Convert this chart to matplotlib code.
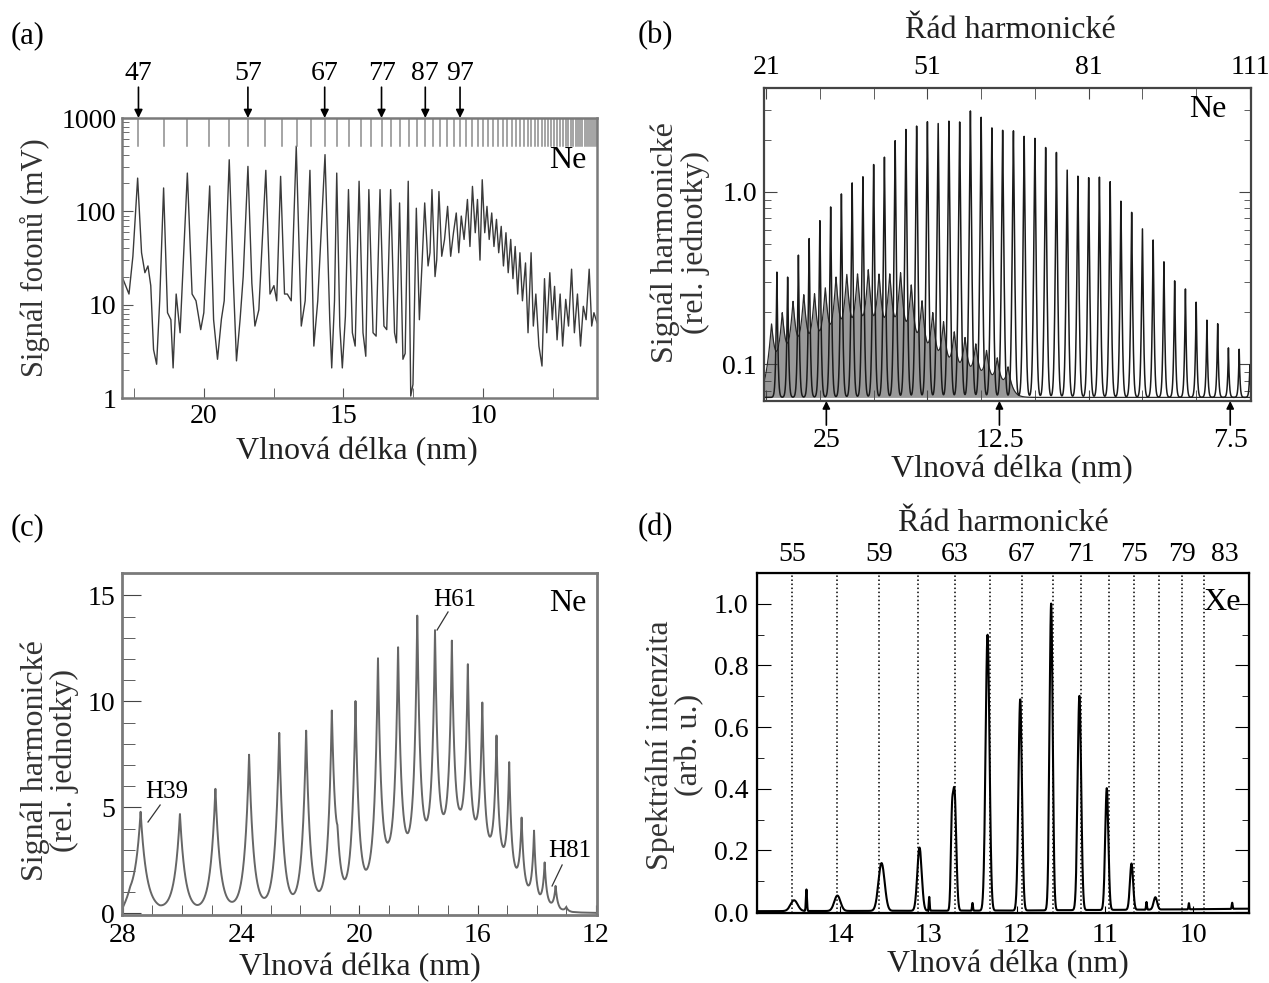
import numpy as np
import matplotlib
matplotlib.use('Agg')
import matplotlib.pyplot as plt
from matplotlib.ticker import FixedLocator, FixedFormatter, NullFormatter

plt.rcParams['font.family'] = ['Liberation Serif', 'DejaVu Serif']

# ---------------- data ----------------
# (a) Ne, signal vs wavelength (trace vertices)
a_wl = [22.93, 22.68, 22.54, 22.37, 22.23, 22.11, 22.00, 21.90, 21.80, 21.69, 21.58, 21.44,
        21.30, 21.18, 21.10, 20.99, 20.85, 20.59, 20.42, 20.28, 20.11, 20.00, 19.79, 19.65,
        19.51, 19.37, 19.27, 19.09, 18.94, 18.83, 18.70, 18.59, 18.42, 18.28, 18.17, 18.03,
        17.78, 17.63, 17.49, 17.39, 17.25, 17.11, 17.01, 16.87, 16.69, 16.51, 16.37, 16.20,
        16.06, 15.92, 15.66, 15.49, 15.42, 15.32, 15.24, 15.13, 15.04, 14.93, 14.82, 14.68,
        14.58, 14.44, 14.30, 14.20, 14.09, 13.94, 13.83, 13.69, 13.55, 13.45, 13.31, 13.17,
        13.10, 12.99, 12.87, 12.79, 12.68, 12.59, 12.51, 12.39, 12.28, 12.18, 12.09, 11.97,
        11.90, 11.83, 11.72, 11.66, 11.58, 11.48, 11.38, 11.27, 11.16, 11.06, 10.96, 10.87,
        10.78, 10.68, 10.56, 10.47, 10.38, 10.28, 10.20, 10.11, 10.03, 9.94, 9.86, 9.78,
        9.69, 9.61, 9.52, 9.44, 9.35, 9.27, 9.18, 9.10, 9.01, 8.93, 8.85, 8.76, 8.68, 8.59,
        8.48, 8.39, 8.28, 8.20, 8.11, 8.00, 7.89, 7.80, 7.72, 7.61, 7.52, 7.44, 7.35, 7.24,
        7.15, 7.04, 6.94, 6.83, 6.73, 6.62, 6.51, 6.41, 6.31, 6.20, 6.11, 6.03, 5.92]
a_sig = [20, 13, 33, 227, 36, 22, 26, 16, 3.3, 2.3, 11, 178,
         8.2, 6.9, 2.1, 13, 5, 257, 13, 11, 5.4, 8.2, 187, 6.9,
         2.6, 7, 11, 357, 17, 2.5, 7, 20, 303, 17, 5.9, 8.8,
         275, 13, 16, 11, 237, 13, 13, 11, 500, 5.9, 11, 275,
         3.6, 11, 405, 6.9, 2.1, 11, 257, 5.9, 2.1, 7.5, 171, 5,
         3.6, 210, 5, 2.8, 171, 5, 4.6, 171, 5.9, 5.4, 171, 5,
         3.9, 123, 2.6, 3.0, 210, 1.05, 1.4, 108, 6.9, 30, 123, 26,
         36, 171, 20, 30, 163, 33, 50, 113, 33, 59, 96, 36,
         89, 50, 134, 42, 185, 59, 134, 30, 218, 59, 113, 50,
         96, 42, 82, 36, 69, 26, 59, 22, 50, 19, 42, 13, 36, 11,
         28, 5, 36, 5.9, 13, 3.6, 2.2, 19, 5, 22, 6.9, 15.7, 4.2, 13,
         3.6, 11.4, 5.9, 24, 5, 13, 3.6, 9.6, 6.9, 24, 5.9, 8.2, 6.4]
a_laser = 1050.0  # nm, wavelength of the driving laser
a_marked = [47, 57, 67, 77, 87, 97]
a_comb = list(range(45, 181, 2))

# (b) Ne, harmonic signal vs harmonic order
b_orders = list(range(23, 112, 2))
b_height = [0.344, 0.33, 0.43, 0.55, 0.69, 0.83, 1.0, 1.13, 1.27, 1.45, 1.63, 2.02,
            2.33, 2.49, 2.55, 2.58, 2.6, 2.6, 3.02, 2.73, 2.44, 2.28, 2.33, 2.13,
            2.08, 1.86, 1.70, 1.39, 1.24, 1.24, 1.24, 1.16, 0.91, 0.76, 0.63, 0.53,
            0.40, 0.31, 0.275, 0.235, 0.18, 0.175, 0.125, 0.123, 0.10]
# weaker second trace (dark band low on the left)
b_low_orders = list(range(22, 68, 2))
b_low_height = [0.1, 0.12, 0.15, 0.17, 0.17, 0.19, 0.23, 0.24, 0.24, 0.26, 0.24, 0.24,
                0.25, 0.2, 0.15, 0.12, 0.1, 0.08, 0.07, 0.06, 0.05, 0.04, 0.03]
b_floor = 0.064
b_laser = 805.0
b_marked_wl = [25, 12.5, 7.5]

# (c) Ne, linear signal vs wavelength
c_peak_wl = [27.40, 26.07, 24.87, 23.73, 22.71, 21.80, 20.93, 20.74, 20.13, 19.37, 18.69,
             18.04, 17.44, 16.87, 16.33, 15.84, 15.36, 14.93, 14.51, 14.09, 13.73, 13.36, 13.00]
c_peak_h = [4.8, 4.7, 5.9, 7.5, 8.5, 8.65, 9.3, 2.2, 10.0, 12.05, 12.6,
            14.1, 13.4, 12.85, 11.8, 10.0, 8.4, 7.15, 4.5, 3.9, 2.4, 1.3, 0.3]
c_base_wl = [28.03, 27.75, 26.75, 25.5, 24.3, 23.2, 22.25, 21.35, 20.5, 19.8, 19.0, 18.35,
             17.75, 17.15, 16.6, 16.05, 15.6, 15.15, 14.7, 14.3, 13.9, 13.55, 13.2, 12.8,
             12.4, 11.96]
c_base_val = [0.05, 0.6, 0.15, 0.1, 0.2, 0.25, 0.3, 0.45, 0.7, 1.3, 2.5, 2.9,
              3.4, 3.8, 4.1, 3.6, 3.0, 2.5, 1.7, 1.0, 0.55, 0.35, 0.15, 0.06,
              0.03, 0.02]
c_labels = ['H39', 'H61', 'H81']

# (d) Xe, spectral intensity vs wavelength
d_peak_wl = [14.52, 14.38, 14.03, 13.53, 13.10, 12.99, 12.735, 12.705, 12.50, 12.33, 11.96,
             11.61, 11.29, 10.98, 10.70, 10.53, 10.43, 10.05, 9.56]
d_peak_h = [0.035, 0.07, 0.05, 0.155, 0.205, 0.045, 0.2, 0.39, 0.025, 0.895, 0.685,
            0.995, 0.695, 0.395, 0.15, 0.025, 0.04, 0.02, 0.02]
d_peak_w = [0.04, 0.006, 0.035, 0.035, 0.025, 0.005, 0.012, 0.02, 0.005, 0.022, 0.02,
            0.018, 0.02, 0.018, 0.018, 0.005, 0.02, 0.005, 0.005]
d_base_wl = [14.94, 12.0, 10.0, 9.37]
d_base_val = [0.003, 0.005, 0.009, 0.011]
d_laser = 800.0
d_lines = list(range(55, 82, 2))
d_top = [55, 59, 63, 67, 71, 75, 79, 83]

W, H = 1269, 983
fig = plt.figure(figsize=(W / 100, H / 100), dpi=100)
fig.patch.set_facecolor('white')


def box(x0, y0, x1, y1):
    return [x0 / W, 1 - y1 / H, (x1 - x0) / W, (y1 - y0) / H]


# ================= (a) =================
ax = fig.add_axes(box(122, 118, 597, 398))
ax.plot(a_wl, a_sig, color='#3a3a3a', lw=1.0)
ax.set_yscale('log')
ax.set_ylim(1, 1000)
ax.set_xlim(22.93, 5.92)
for q in a_comb:
    ax.plot([a_laser / q] * 2, [500, 1000], color='#8c8c8c', lw=1.1)
for q in a_marked:
    x = a_laser / q
    ax.annotate('', xy=(x, 1.0), xycoords=('data', 'axes fraction'),
                xytext=(x, 1.11), textcoords=('data', 'axes fraction'),
                arrowprops=dict(arrowstyle='-|>', color='k', lw=1.2, mutation_scale=12,
                                shrinkA=0, shrinkB=0))
    ax.text(x, 1.16, str(q), transform=ax.get_xaxis_transform(), ha='center', va='center',
            fontsize=20)
ax.yaxis.set_major_locator(FixedLocator([1, 10, 100, 1000]))
ax.yaxis.set_major_formatter(FixedFormatter(['1', '10', '100', '1000']))
ax.yaxis.set_minor_formatter(NullFormatter())
ax.xaxis.set_major_locator(FixedLocator([20, 15, 10]))
ax.xaxis.set_minor_locator(FixedLocator([22.5, 17.5, 12.5, 7.5]))
ax.tick_params(which='both', direction='in', labelsize=20, color='#555', pad=4)
ax.tick_params(axis='y', which='major', length=8)
ax.tick_params(axis='y', which='minor', length=5)
ax.tick_params(axis='x', which='both', length=7)
for s in ax.spines.values():
    s.set_color('#7a7a7a')
    s.set_linewidth(1.8)
ax.text(0.939, 0.85, 'Ne', transform=ax.transAxes, ha='center', va='center', fontsize=23)
ax.set_ylabel('Signál fotonů (mV)', fontsize=22, va='center', color='#333')
ax.yaxis.set_label_coords(-0.183, 0.5)
ax.set_xlabel('Vlnová délka (nm)', fontsize=23, va='center', color='#222')
ax.xaxis.set_label_coords(0.495, -0.193)

# ================= (b) =================
ax = fig.add_axes(box(764, 88, 1251, 401))
qx = np.linspace(20.6, 111.2, 8000)
low = b_floor + sum(h * np.exp(-np.abs(qx - q) / 0.7) for q, h in zip(b_low_orders, b_low_height))
main = b_floor + sum((h - b_floor) * np.exp(-np.abs(qx - q) / 0.13) for q, h in zip(b_orders, b_height))
ax.fill_between(qx, b_floor, low, color='#555', alpha=0.6, lw=0)
ax.plot(qx, low, color='#2a2a2a', lw=0.9)
ax.plot(qx, main, color='#1a1a1a', lw=1.1)
ax.set_yscale('log')
ax.set_xlim(20.6, 111.2)
ax.set_ylim(0.061, 4.0)
ax.yaxis.set_major_locator(FixedLocator([0.1, 1.0]))
ax.yaxis.set_major_formatter(FixedFormatter(['0.1', '1.0']))
ax.yaxis.set_minor_locator(FixedLocator([0.07, 0.08, 0.09, 0.2, 0.3, 0.4, 0.5, 0.6, 0.7,
                                         0.8, 0.9, 2, 3, 4]))
ax.yaxis.set_minor_formatter(NullFormatter())
ax.xaxis.set_major_locator(FixedLocator([21, 51, 81, 111]))
ax.xaxis.set_minor_locator(FixedLocator([31, 41, 61, 71, 91, 101]))
ax.tick_params(which='both', direction='in', labelsize=20, top=True, right=True,
               labeltop=True, labelbottom=False, color='#444')
ax.tick_params(axis='y', which='major', length=9, pad=5)
ax.tick_params(axis='y', which='minor', length=5)
ax.tick_params(axis='x', which='both', length=8, pad=6)
for s in ax.spines.values():
    s.set_color('#444')
    s.set_linewidth(1.6)
for wl in b_marked_wl:
    q = b_laser / wl
    ax.annotate('', xy=(q, 0.0), xycoords=('data', 'axes fraction'),
                xytext=(q, -0.077), textcoords=('data', 'axes fraction'),
                arrowprops=dict(arrowstyle='-|>', color='k', lw=1.2, mutation_scale=11,
                                shrinkA=0, shrinkB=0))
    ax.text(q, -0.125, '%g' % wl, transform=ax.get_xaxis_transform(), ha='center',
            va='center', fontsize=20)
ax.text(0.912, 0.93, 'Ne', transform=ax.transAxes, ha='center', va='center', fontsize=23)
ax.set_ylabel('Signál harmonické\n(rel. jednotky)', fontsize=23, va='center',
              linespacing=1.0, color='#333')
ax.yaxis.set_label_coords(-0.172, 0.505)
ax.set_xlabel('Vlnová délka (nm)', fontsize=23, va='center', color='#222')
ax.xaxis.set_label_coords(0.509, -0.22)
ax.text(0.505, 1.185, 'Řád harmonické', transform=ax.transAxes, ha='center', va='center',
        fontsize=23, color='#222')

# ================= (c) =================
ax = fig.add_axes(box(122, 573, 597, 915))
lx = np.linspace(11.96, 28.03, 6000)
base = np.interp(lx, c_base_wl[::-1], c_base_val[::-1])
c_amp = np.array(c_peak_h) - np.interp(c_peak_wl[::-1], c_base_wl[::-1], c_base_val[::-1])[::-1]
sig = base + sum(a * np.exp(-np.abs(lx - c) / (0.1 * (c / 18.0) ** 1.5))
                 for c, a in zip(c_peak_wl, c_amp))
ax.plot(lx, sig, color='#666', lw=1.4)
ax.set_xlim(28.03, 11.96)
ax.set_ylim(-0.08, 16.06)
ax.xaxis.set_major_locator(FixedLocator([28, 24, 20, 16, 12]))
ax.xaxis.set_minor_locator(FixedLocator(list(range(13, 28))))
ax.yaxis.set_major_locator(FixedLocator([0, 5, 10, 15]))
ax.yaxis.set_minor_locator(FixedLocator([v for v in range(1, 16) if v % 5]))
ax.tick_params(which='both', direction='in', labelsize=20, color='#444')
ax.tick_params(axis='y', which='major', length=14, pad=5)
ax.tick_params(axis='y', which='minor', length=9)
ax.tick_params(axis='x', which='both', length=7, pad=6)
for s in ax.spines.values():
    s.set_color('#7a7a7a')
    s.set_linewidth(2.0)
c_text_pos = [(26.51, 5.72), (16.76, 14.79), (12.87, 2.94)]
c_line = [((26.74, 5.11), (27.15, 4.31)), ((17.0, 14.22), (17.37, 13.37)),
          ((13.14, 2.28), (13.48, 1.29))]
for lab, (tx, ty), (p0, p1) in zip(c_labels, c_text_pos, c_line):
    ax.text(tx, ty, lab, ha='center', va='center', fontsize=18)
    ax.plot([p0[0], p1[0]], [p0[1], p1[1]], color='#333', lw=0.9)
ax.text(0.939, 0.912, 'Ne', transform=ax.transAxes, ha='center', va='center', fontsize=23)
ax.set_ylabel('Signál harmonické\n(rel. jednotky)', fontsize=23, va='center',
              linespacing=1.0, color='#333')
ax.yaxis.set_label_coords(-0.152, 0.453)
ax.set_xlabel('Vlnová délka (nm)', fontsize=23, va='center', color='#222')
ax.xaxis.set_label_coords(0.501, -0.155)

# ================= (d) =================
ax = fig.add_axes(box(757, 573, 1249, 913))
dx = np.linspace(9.37, 14.94, 8000)
spec = np.interp(dx, d_base_wl[::-1], d_base_val[::-1]) + sum(
    h * np.exp(-0.5 * ((dx - c) / w) ** 2) for c, h, w in zip(d_peak_wl, d_peak_h, d_peak_w))
for q in d_lines:
    ax.axvline(d_laser / q, color='k', ls=':', lw=1.1, zorder=1)
ax.plot(dx, spec, color='k', lw=1.5, zorder=2)
ax.set_xlim(14.94, 9.37)
ax.set_ylim(-0.003, 1.1)
ax.yaxis.set_major_locator(FixedLocator([0.0, 0.2, 0.4, 0.6, 0.8, 1.0]))
ax.yaxis.set_major_formatter(FixedFormatter(['0.0', '0.2', '0.4', '0.6', '0.8', '1.0']))
ax.yaxis.set_minor_locator(FixedLocator([0.1, 0.3, 0.5, 0.7, 0.9]))
ax.xaxis.set_major_locator(FixedLocator([14, 13, 12, 11, 10]))
ax.tick_params(which='both', direction='in', labelsize=20, right=True, color='k')
ax.tick_params(axis='y', which='major', length=10, pad=6)
ax.tick_params(axis='y', which='minor', length=5)
ax.tick_params(axis='x', which='major', length=5, pad=7)
for s in ax.spines.values():
    s.set_color('k')
    s.set_linewidth(1.6)
top = ax.twiny()
top.set_xlim(ax.get_xlim())
top.xaxis.set_major_locator(FixedLocator([d_laser / q for q in d_top]))
top.xaxis.set_major_formatter(FixedFormatter([str(q) for q in d_top]))
top.tick_params(axis='x', length=0, labelsize=20, pad=4)
ax.text(0.945, 0.912, 'Xe', transform=ax.transAxes, ha='center', va='center', fontsize=23)
ax.set_ylabel('Spektrální intenzita\n(arb. u.)', fontsize=23, va='center',
              linespacing=1.0, color='#333')
ax.yaxis.set_label_coords(-0.167, 0.494)
ax.set_xlabel('Vlnová délka (nm)', fontsize=23, va='center', color='#222')
ax.xaxis.set_label_coords(0.51, -0.153)
ax.text(0.5, 1.147, 'Řád harmonické', transform=ax.transAxes, ha='center', va='center',
        fontsize=23, color='#222')

# panel letters
for lab, x, y in [('(a)', 28, 36), ('(b)', 655, 36), ('(c)', 28, 528), ('(d)', 655, 528)]:
    fig.text(x / W, 1 - y / H, lab, ha='center', va='center', fontsize=22)

fig.savefig('out.png', dpi=100)
